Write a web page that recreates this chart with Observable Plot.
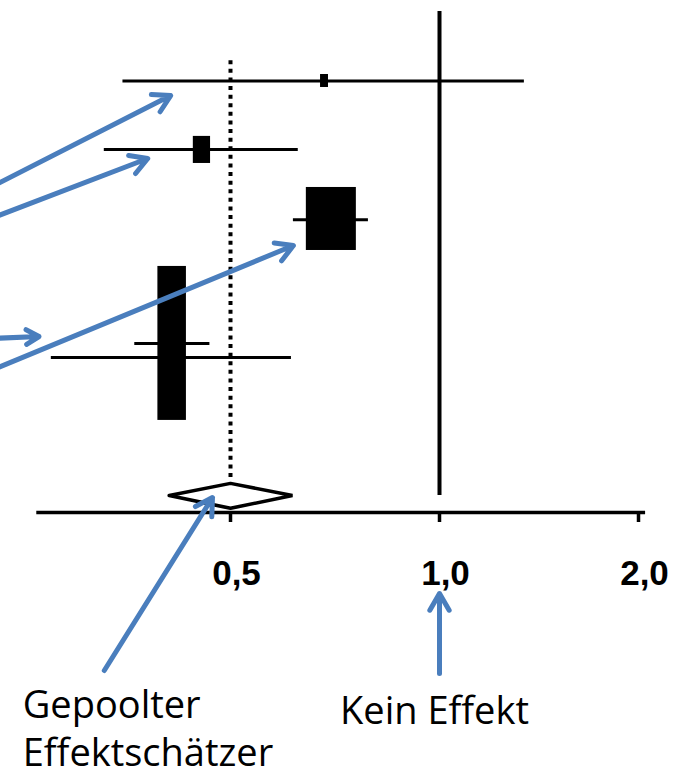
<!DOCTYPE html>
<html>
<head>
<meta charset="utf-8">
<script src="https://cdn.jsdelivr.net/npm/d3@7"></script>
<script src="https://cdn.jsdelivr.net/npm/@observablehq/plot@0.6"></script>
<style>
  html, body { margin: 0; padding: 0; background: #fff; }
  #chart svg { display: block; }
</style>
</head>
<body>
<div id="chart"></div>
<script>
// ---- Data ----
// individual studies: row position, CI and point estimate (odds-ratio scale)
const studyRow  = [1, 1.99, 3, 4.785, 4.986];
const ciLow     = [0.35, 0.329, 0.616, 0.364, 0.276];
const ciHigh    = [1.344, 0.626, 0.790, 0.467, 0.612];
// study weight boxes (extent in data units)
const boxLeft   = [0.674, 0.442, 0.643, 0.393];
const boxRight  = [0.692, 0.468, 0.759, 0.432];
const boxTop    = [0.908, 1.80, 2.536, 3.674];
const boxBottom = [1.095, 2.19, 3.444, 5.893];
// pooled estimate
const pooledEst = 0.5, pooledLow = 0.408, pooledHigh = 0.614;
const pooledRow = 6.975, pooledTop = 6.80, pooledBottom = 7.16;
// reference lines
const noEffect = 1;
const noEffectRows = [0, 6.975];
const pooledLineRows = [0.71, 6.72];
// axis
const axisRow = 7.22;
const tickLen = 0.144;
const axisExtent = [0.263, 2.05];
const tickValues = [0.5, 1, 2];
// annotation arrows (tail -> head), data units
const arrowX1 = [0.229, 0.229, 0.229, 0.229, 0.329, 1.0];
const arrowY1 = [2.50, 2.96, 4.71, 5.15, 9.497, 9.54];
const arrowX2 = [0.410, 0.380, 0.265, 0.616, 0.471, 1.0];
const arrowY2 = [1.211, 2.118, 4.684, 3.372, 7.004, 8.387];
// annotation labels
const labelText = ["Gepoolter\nEffektschätzer", "Kein Effekt"];
const labelX = [0.251, 0.719];
const labelY = [10.88, 10.275];

// ---- Build tables ----
const studies = studyRow.map((r, i) => ({row: r, lo: ciLow[i], hi: ciHigh[i]}));
const boxes = boxLeft.map((l, i) => ({x1: l, x2: boxRight[i], y1: boxTop[i], y2: boxBottom[i]}));
const diamond = [
  {x: pooledLow, y: pooledRow},
  {x: pooledEst, y: pooledTop},
  {x: pooledHigh, y: pooledRow},
  {x: pooledEst, y: pooledBottom},
  {x: pooledLow, y: pooledRow}
];
const arrows = arrowX1.map((x, i) => ({x1: x, y1: arrowY1[i], x2: arrowX2[i], y2: arrowY2[i]}));
const labels = labelText.map((t, i) => ({text: t, x: labelX[i], y: labelY[i]}));

const blue = "#4a7ebd";

const chart = Plot.plot({
  width: 679,
  height: 776,
  marginTop: 11,
  marginBottom: 264,
  marginLeft: 0,
  marginRight: 0,
  style: {background: "#fff", overflow: "hidden"},
  x: {type: "log", domain: [0.5, 1, 2], range: [230, 439, 638]},
  y: {domain: [0, axisRow], range: [11, 512], axis: null},
  marks: [
    // no-effect line
    Plot.ruleX([noEffect], {y1: noEffectRows[0], y2: noEffectRows[1], stroke: "#000", strokeWidth: 4}),
    // pooled estimate dotted line
    Plot.ruleX([pooledEst], {y1: pooledLineRows[0], y2: pooledLineRows[1], stroke: "#000", strokeWidth: 4, strokeDasharray: "4,4.6"}),
    // confidence intervals
    Plot.ruleY(studies, {y: "row", x1: "lo", x2: "hi", stroke: "#000", strokeWidth: 3}),
    // weight boxes
    Plot.rect(boxes, {x1: "x1", x2: "x2", y1: "y1", y2: "y2", fill: "#000"}),
    // pooled diamond
    Plot.line(diamond, {x: "x", y: "y", stroke: "#000", strokeWidth: 3.5, fill: "#fff", strokeLinejoin: "miter"}),
    // axis line and ticks
    Plot.ruleY([axisRow], {x1: axisExtent[0], x2: axisExtent[1], stroke: "#000", strokeWidth: 3.5}),
    Plot.ruleX(tickValues, {y1: axisRow, y2: axisRow + tickLen, stroke: "#000", strokeWidth: 3.5}),
    Plot.axisX({
      anchor: "bottom",
      ticks: tickValues,
      tickFormat: d => d.toFixed(1).replace(".", ","),
      tickSize: 0,
      tickPadding: 48,
      fill: "#000",
      fontSize: 35,
      fontWeight: "bold",
      fontFamily: "Liberation Sans, Arial, sans-serif",
      dx: 6,
      label: null
    }),
    // annotation arrows
    Plot.arrow(arrows, {x1: "x1", y1: "y1", x2: "x2", y2: "y2", stroke: blue, strokeWidth: 5, headLength: 5.8, headAngle: 60}),
    // labels
    Plot.text(labels, {
      x: "x", y: "y", text: "text",
      textAnchor: "start", lineAnchor: "bottom", lineHeight: 1.28,
      fontSize: 38, fontFamily: "Open Sans, sans-serif", fill: "#000"
    })
  ]
});
document.getElementById("chart").appendChild(chart);
</script>
</body>
</html>
